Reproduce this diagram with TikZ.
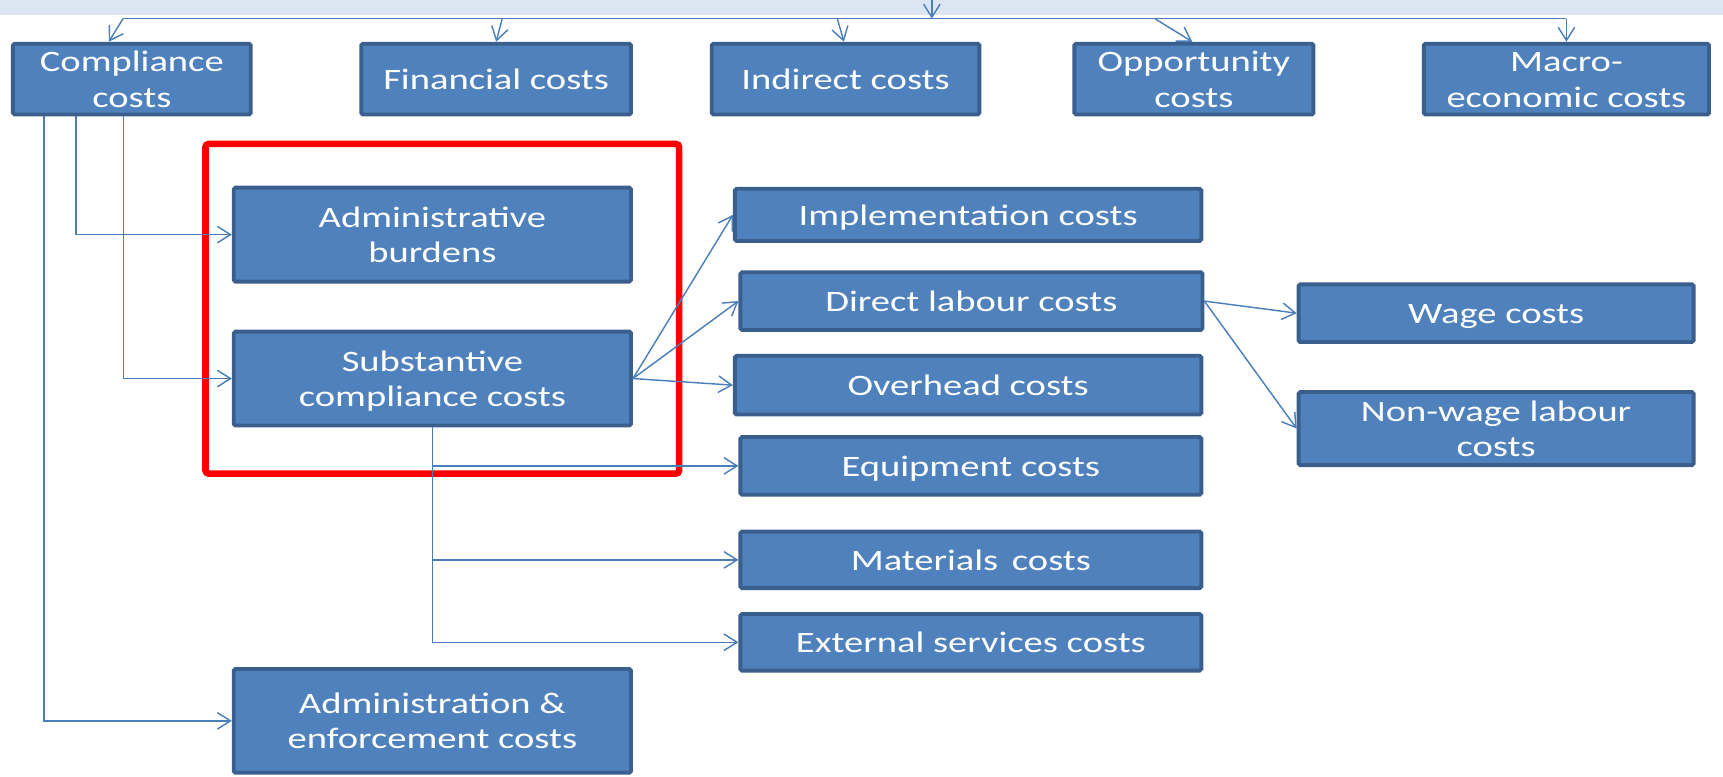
\documentclass[tikz,border=0pt]{standalone}
\usepackage{fontspec}
\setmainfont{Carlito}[FakeStretch=1.3]
\usetikzlibrary{arrows.meta}
\definecolor{boxfill}{HTML}{4F81BD}
\definecolor{boxline}{HTML}{3A5F8D}
\definecolor{linkblue}{HTML}{4A7EBB}
\definecolor{bandblue}{HTML}{DCE6F2}
\newcommand\boxstrut{\rule[-5.4pt]{0pt}{29.7pt}}
\begin{document}
\begin{tikzpicture}[x=1pt,y=-1pt,
  box/.style={draw=boxline, line width=3.5pt, fill=boxfill, text=white,
    font=\fontsize{27}{32}\selectfont, align=center, inner sep=0pt, rounded corners=1.5pt,
    execute at begin node={\boxstrut}, execute at end node={\boxstrut}},
  link/.style={draw=linkblue, line width=1.3pt},
  arr/.style={link, -{Straight Barb[length=12pt,width=15pt]}},
  redframe/.style={draw=red, line width=6pt, rounded corners=3pt}]
\useasboundingbox (0,0) rectangle (1568,707);
% top band
\fill[bandblue] (0,0) rectangle (1568,14);

% top row
\node[box, minimum width=216.5pt, minimum height=64.5pt] (comp) at (120,72) {\boxstrut Compliance\\costs};
\node[box, minimum width=245.5pt, minimum height=64.5pt] (fin) at (451.5,72) {Financial costs};
\node[box, minimum width=243.5pt, minimum height=64.5pt] (ind) at (769.5,72) {Indirect costs};
\node[box, minimum width=217.5pt, minimum height=64.5pt] (opp) at (1086.5,72) {\boxstrut Opportunity\\costs};
\node[box, minimum width=259.5pt, minimum height=64.5pt] (mac) at (1425.5,72) {\boxstrut Macro-\\economic costs};

% red frame
\draw[redframe] (187,131) rectangle (618,431);

% middle column
\node[box, minimum width=361.5pt, minimum height=85.5pt] (adminb) at (393.5,213.5) {\boxstrut Administrative\\burdens};
\node[box, minimum width=361.5pt, minimum height=85.5pt] (subst) at (393.5,344.5) {\boxstrut Substantive\\compliance costs};
\node[box, minimum width=361.5pt, minimum height=94.5pt] (adminenf) at (393.5,656) {\boxstrut Administration \&\\enforcement costs};

% right column
\node[box, minimum width=424.5pt, minimum height=47.5pt] (impl) at (881,195.5) {Implementation costs};
\node[box, minimum width=420.5pt, minimum height=52.5pt] (dlab) at (884,274) {Direct labour costs};
\node[box, minimum width=424.5pt, minimum height=53.5pt] (over) at (881,350.5) {Overhead costs};
\node[box, minimum width=419.5pt, minimum height=52.5pt] (equip) at (883.5,424) {Equipment costs};
\node[box, minimum width=419.5pt, minimum height=51.5pt] (mat) at (883.5,509.5) {Materials\, costs};
\node[box, minimum width=419.5pt, minimum height=51.5pt] (ext) at (883.5,584.5) {External services costs};

% far right
\node[box, minimum width=359.5pt, minimum height=52.5pt] (wage) at (1361.5,285) {Wage costs};
\node[box, minimum width=359.5pt, minimum height=66.5pt] (nonw) at (1361.5,390) {\boxstrut Non-wage labour\\costs};

% top distribution
\coordinate (src) at (848,0);
\coordinate (hub) at (848,17);
\coordinate (hL) at (112,17);
\coordinate (hR) at (1425.5,17);
\coordinate (f0) at (457,17);
\coordinate (i0) at (762,17);
\coordinate (o0) at (1051,17);
\draw[link] (hL) -- (hR);
\draw[arr] (src) -- (hub);
\draw[arr] (hL) -- ([xshift=-21pt]comp.north);
\draw[arr] (f0) -- (fin.north);
\draw[arr] (i0) -- ([xshift=-1.5pt]ind.north);
\draw[arr] (o0) -- ([xshift=-1.5pt]opp.north);
\draw[arr] (hR) -- (mac.north);

% compliance branches
\draw[arr] ([xshift=-51pt]comp.south) |- (adminb.west);
\draw[arr] ([xshift=-7.5pt]comp.south) |- (subst.west);
\draw[arr] ([xshift=-80pt]comp.south) |- (adminenf.west);

% substantive fan
\draw[arr] (subst.east) -- (impl.west);
\draw[arr] (subst.east) -- (dlab.west);
\draw[arr] (subst.east) -- (over.west);
\draw[arr] (subst.south) |- (equip.west);
\draw[arr] (subst.south) |- (mat.west);
\draw[arr] (subst.south) |- (ext.west);

% direct labour
\draw[arr] (dlab.east) -- (wage.west);
\draw[arr] (dlab.east) -- (nonw.west);
\end{tikzpicture}
\end{document}
